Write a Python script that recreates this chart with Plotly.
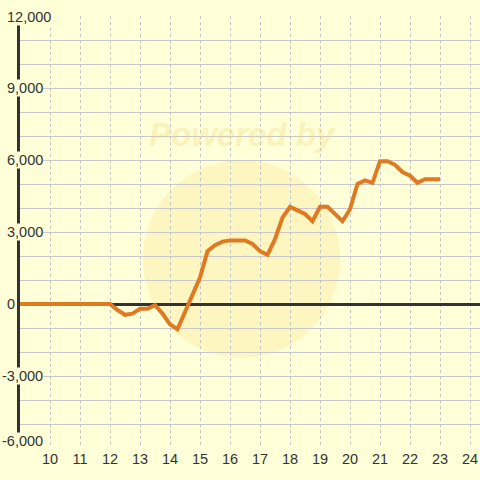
import plotly.graph_objects as go

x_vals = [9.0, 9.25, 9.5, 9.75, 10.0, 10.25, 10.5, 10.75, 11.0, 11.25, 11.5, 11.75,
          12.0, 12.25, 12.5, 12.75, 13.0, 13.25, 13.5, 13.75, 14.0, 14.25, 14.5, 14.75,
          15.0, 15.25, 15.5, 15.75, 16.0, 16.25, 16.5, 16.75, 17.0, 17.25, 17.5, 17.75,
          18.0, 18.25, 18.5, 18.75, 19.0, 19.25, 19.5, 19.75, 20.0, 20.25, 20.5, 20.75,
          21.0, 21.25, 21.5, 21.75, 22.0, 22.25, 22.5, 22.75, 23.0]
y_vals = [0, 0, 0, 0, 0, 0, 0, 0, 0, 0, 0, 0,
          0, -250, -450, -400, -200, -200, -50, -400, -850, -1050, -300, 350,
          1100, 2200, 2450, 2600, 2650, 2650, 2650, 2500, 2200, 2050, 2700, 3600,
          4050, 3900, 3750, 3450, 4050, 4050, 3750, 3450, 3950, 5000, 5150, 5050,
          5950, 5950, 5800, 5500, 5350, 5050, 5200, 5200, 5200]

x_ticks = [10, 11, 12, 13, 14, 15, 16, 17, 18, 19, 20, 21, 22, 23, 24]
y_ticks = [12000, 9000, 6000, 3000, 0, -3000, -6000]
y_tick_labels = ["12,000", "9,000", "6,000", "3,000", "0", "-3,000", "-6,000"]

BG = "#FFFFD8"
TXT = "#333333"

fig = go.Figure()
fig.add_trace(go.Scatter(x=x_vals, y=y_vals, mode="lines",
                         line=dict(color="#E07A22", width=4), hoverinfo="skip"))

# watermark
fig.add_shape(type="circle", xref="x", yref="y", x0=13.1, x1=19.67, y0=-2250, y1=6000,
              fillcolor="rgba(245,215,110,0.22)", line=dict(width=0), layer="below")
fig.add_annotation(text="<b><i>Powered by</i></b>", xref="x", yref="y",
                   x=16.4, y=7080, showarrow=False,
                   font=dict(size=33, color="rgba(238,215,120,0.32)", family="Liberation Sans"))

for v, lab in zip(y_ticks, y_tick_labels):
    ys = 0
    if v == -6000:
        ys = 7
    if v == 12000:
        ys = -1
    fig.add_annotation(text=lab, xref="paper", yref="y", x=0, y=v, xanchor="left",
                       xshift=-14 if not lab.startswith("-") else -19, yshift=ys,
                       showarrow=False, bgcolor=BG, borderpad=0,
                       font=dict(size=14.5, color=TXT, family="Liberation Sans"))

fig.update_layout(
    width=480, height=480,
    margin=dict(l=20, r=0, t=16, b=32),
    paper_bgcolor=BG, plot_bgcolor=BG,
    showlegend=False,
    font=dict(family="Liberation Sans", size=14.5, color=TXT),
    xaxis=dict(range=[9, 9 + 460 / 30], tickvals=x_ticks, ticks="", showgrid=True,
               gridcolor="#C4C4C4", griddash="dot", gridwidth=1, zeroline=False,
               showline=False, tickfont=dict(size=14.5, color=TXT), fixedrange=True),
    yaxis=dict(range=[-6000, 12000], dtick=1000, tick0=0, showticklabels=False,
               ticks="", showgrid=True, gridcolor="#C8C8CC", gridwidth=1,
               zeroline=True, zerolinecolor="#333333", zerolinewidth=3,
               showline=True, linecolor="#333333", linewidth=3, fixedrange=True),
)

fig.write_html("out.html", config={"displayModeBar": False},
               post_script="document.body.style.margin='0';")
